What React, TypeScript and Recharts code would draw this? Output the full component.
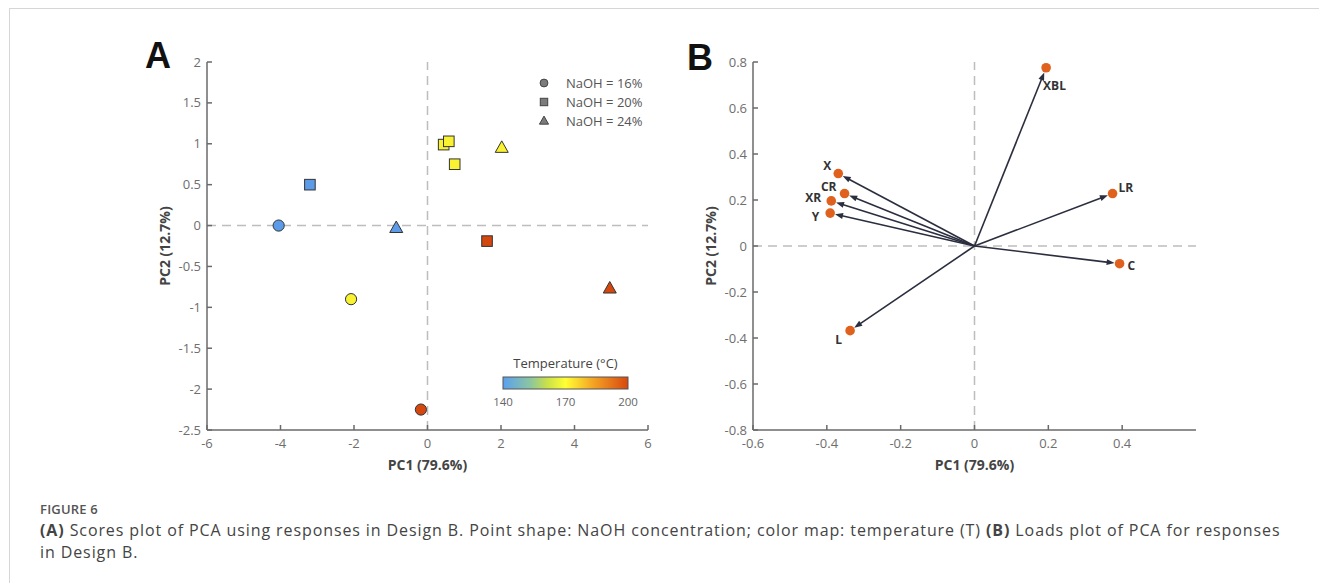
import React from "react";
import { ScatterChart, Scatter, XAxis, YAxis, ReferenceLine } from "recharts";

// Panel A - PCA scores, Design B (one entry per run)
const SCORE_PC1 = [-4.05, -2.08, -0.18, -3.2, 0.44, 0.58, 0.74, 1.62, -0.85, 2.02, 4.96];
const SCORE_PC2 = [0.0, -0.9, -2.25, 0.5, 0.99, 1.03, 0.75, -0.19, -0.03, 0.95, -0.77];
const SCORE_NAOH = [16, 16, 16, 20, 20, 20, 20, 20, 24, 24, 24];
const SCORE_TEMP = [140, 170, 200, 140, 170, 170, 170, 200, 140, 170, 200];
const NAOH_LEVELS = [16, 20, 24];
const TEMP_TICKS = [140, 170, 200];

// Panel B - PCA loadings
const LOAD_NAMES = ["XBL", "X", "CR", "XR", "Y", "LR", "C", "L"];
const LOAD_PC1 = [0.194, -0.369, -0.352, -0.388, -0.391, 0.374, 0.393, -0.337];
const LOAD_PC2 = [0.775, 0.315, 0.228, 0.196, 0.143, 0.228, -0.077, -0.368];

const A_X_TICKS = [-6, -4, -2, 0, 2, 4, 6];
const A_Y_TICKS = [-2.5, -2, -1.5, -1, -0.5, 0, 0.5, 1, 1.5, 2];
const B_X_TICKS = [-0.6, -0.4, -0.2, 0, 0.2, 0.4];
const B_Y_TICKS = [-0.8, -0.6, -0.4, -0.2, 0, 0.2, 0.4, 0.6, 0.8];

const FONT = "'Open Sans', sans-serif";
const AXIS = "#6a6a6a";
const TICK_TEXT = "#6e6e6e";
const TITLE = "#444";

const TEMP_COLOR: Record<number, string> = {
  140: "#5b9be8",
  170: "#f8f232",
  200: "#d4470f",
};
const NAOH_SHAPE: Record<number, string> = { 16: "circle", 20: "square", 24: "triangle" };

// label placement for the loading points (px from the dot)
const LABEL_POS: Record<string, { dx: number; dy: number; anchor: string }> = {
  XBL: { dx: -3, dy: 22, anchor: "start" },
  X: { dx: -7, dy: -4, anchor: "end" },
  CR: { dx: -8, dy: -3, anchor: "end" },
  XR: { dx: -10, dy: 1, anchor: "end" },
  Y: { dx: -11, dy: 8, anchor: "end" },
  LR: { dx: 6, dy: -2, anchor: "start" },
  C: { dx: 8, dy: 6, anchor: "start" },
  L: { dx: -8, dy: 13, anchor: "end" },
};

const scores = SCORE_PC1.map((pc1, i) => ({
  pc1,
  pc2: SCORE_PC2[i],
  naoh: SCORE_NAOH[i],
  temp: SCORE_TEMP[i],
}));
const loadings = LOAD_NAMES.map((name, i) => ({ name, pc1: LOAD_PC1[i], pc2: LOAD_PC2[i] }));

function Marker({ cx, cy, kind, fill, stroke = "#333", k = 1 }: any) {
  if (kind === "circle") return <circle cx={cx} cy={cy} r={5.6 * k} fill={fill} stroke={stroke} strokeWidth={1} />;
  if (kind === "square")
    return (
      <rect x={cx - 5.3 * k} y={cy - 5.3 * k} width={10.6 * k} height={10.6 * k} fill={fill} stroke={stroke} strokeWidth={1} />
    );
  return (
    <polygon
      points={`${cx},${cy - 7 * k} ${cx - 6.5 * k},${cy + 4.5 * k} ${cx + 6.5 * k},${cy + 4.5 * k}`}
      fill={fill}
      stroke={stroke}
      strokeWidth={1}
    />
  );
}

// inward tick marks, labels outside
const fmt = (v: number) => String(v);
const BottomTick = ({ x, y, payload }: any) => (
  <g>
    <line x1={x} x2={x} y1={y} y2={y - 5} stroke={AXIS} strokeWidth={1.5} />
    <text x={x} y={y + 18} textAnchor="middle" fill={TICK_TEXT} fontSize={13} fontFamily={FONT}>
      {fmt(payload.value)}
    </text>
  </g>
);
const LeftTick = ({ x, y, payload }: any) => (
  <g>
    <line x1={x} x2={x + 5} y1={y} y2={y} stroke={AXIS} strokeWidth={1.5} />
    <text x={x - 6} y={y + 4.5} textAnchor="end" fill={TICK_TEXT} fontSize={13} fontFamily={FONT}>
      {fmt(payload.value)}
    </text>
  </g>
);
const TopTick = ({ x, y }: any) => <line x1={x} x2={x} y1={y} y2={y + 5} stroke={AXIS} strokeWidth={1.5} />;
const RightTick = ({ x, y }: any) => <line x1={x} x2={x - 5} y1={y} y2={y} stroke={AXIS} strokeWidth={1.5} />;

const xTitle = (value: string) => ({
  value,
  position: "insideBottom" as const,
  offset: 0,
  fill: TITLE,
  fontSize: 14,
  fontWeight: 700,
  fontFamily: FONT,
});
const yTitle = (value: string) => ({
  value,
  angle: -90,
  position: "insideLeft" as const,
  offset: 8,
  fill: TITLE,
  fontSize: 14,
  fontWeight: 700,
  fontFamily: FONT,
  style: { textAnchor: "middle" },
});

function Arrow(props: any) {
  const { x1, y1, x2, y2 } = props;
  const dx = x2 - x1;
  const dy = y2 - y1;
  const len = Math.hypot(dx, dy) || 1;
  const ux = dx / len;
  const uy = dy / len;
  const tipX = x2 - ux * 5;
  const tipY = y2 - uy * 5;
  const bx = tipX - ux * 8;
  const by = tipY - uy * 8;
  return (
    <g>
      <line x1={x1} y1={y1} x2={bx + ux * 2} y2={by + uy * 2} stroke="#2b2e3f" strokeWidth={1.6} />
      <polygon
        points={`${tipX},${tipY} ${bx - uy * 3},${by + ux * 3} ${bx + uy * 3},${by - ux * 3}`}
        fill="#2b2e3f"
      />
    </g>
  );
}

function LoadingDot({ cx, cy, payload }: any) {
  const p = LABEL_POS[payload.name];
  return (
    <g>
      <circle cx={cx} cy={cy} r={4.8} fill="#e0601e" />
      <text
        x={cx + p.dx}
        y={cy + p.dy}
        textAnchor={p.anchor}
        fill="#333"
        fontSize={12}
        fontWeight={700}
        fontFamily={FONT}
      >
        {payload.name}
      </text>
    </g>
  );
}

function frameAxes(xDomain: number[], yDomain: number[], xTicks: number[], yTicks: number[]) {
  const line = { stroke: AXIS, strokeWidth: 1.5 };
  return [
    <XAxis
      key="xb"
      type="number"
      dataKey="pc1"
      domain={xDomain}
      ticks={xTicks}
      interval={0}
      height={40}
      tickSize={0}
      tickMargin={0}
      axisLine={line}
      tickLine={false}
      tick={BottomTick}
      allowDataOverflow
      label={xTitle("PC1 (79.6%)")}
    />,
    <XAxis
      key="xt"
      xAxisId="top"
      orientation="top"
      type="number"
      domain={xDomain}
      ticks={xTicks}
      interval={0}
      height={0}
      tickSize={0}
      tickMargin={0}
      axisLine={line}
      tickLine={false}
      tick={TopTick}
      allowDataOverflow
    />,
    <YAxis
      key="yl"
      type="number"
      dataKey="pc2"
      domain={yDomain}
      ticks={yTicks}
      interval={0}
      width={50}
      tickSize={0}
      tickMargin={0}
      axisLine={line}
      tickLine={false}
      tick={LeftTick}
      allowDataOverflow
      label={yTitle("PC2 (12.7%)")}
    />,
    <YAxis
      key="yr"
      yAxisId="right"
      orientation="right"
      type="number"
      domain={yDomain}
      ticks={yTicks}
      interval={0}
      width={0}
      tickSize={0}
      tickMargin={0}
      axisLine={line}
      tickLine={false}
      tick={RightTick}
      allowDataOverflow
    />,
  ];
}

const zeroLine = { stroke: "#bdbdbd", strokeWidth: 1.5, strokeDasharray: "9 6" };

function ScoresChart() {
  return (
    <ScatterChart width={530} height={440} margin={{ top: 22, right: 12, bottom: 10, left: 27 }}>
      {frameAxes([-6, 6], [-2.5, 2], A_X_TICKS, A_Y_TICKS)}
      <ReferenceLine x={0} {...zeroLine} />
      <ReferenceLine y={0} {...zeroLine} />
      {NAOH_LEVELS.map((lvl) => (
        <Scatter
          key={lvl}
          name={`NaOH = ${lvl}%`}
          data={scores.filter((s) => s.naoh === lvl)}
          isAnimationActive={false}
          shape={(p: any) => <Marker cx={p.cx} cy={p.cy} kind={NAOH_SHAPE[lvl]} fill={TEMP_COLOR[p.payload.temp]} />}
        />
      ))}
    </ScatterChart>
  );
}

function LoadingsChart() {
  return (
    <ScatterChart width={530} height={440} margin={{ top: 22, right: 24, bottom: 10, left: 13 }}>
      {frameAxes([-0.6, 0.6], [-0.8, 0.8], B_X_TICKS, B_Y_TICKS)}
      <ReferenceLine x={0} {...zeroLine} />
      <ReferenceLine y={0} {...zeroLine} />
      {loadings.map((l) => (
        <ReferenceLine
          key={l.name}
          segment={[
            { x: 0, y: 0 },
            { x: l.pc1, y: l.pc2 },
          ]}
          shape={Arrow}
        />
      ))}
      <Scatter data={loadings} isAnimationActive={false} shape={LoadingDot} />
    </ScatterChart>
  );
}

export default function App() {
  return (
    <div
      style={{
        position: "absolute",
        left: 0,
        top: 0,
        width: 1319,
        height: 583,
        background: "#fff",
        fontFamily: FONT,
        overflow: "hidden",
      }}
    >
      <div style={{ position: "absolute", left: 9, top: 8, width: 1310, borderTop: "1.5px solid #d6d6d6" }} />
      <div style={{ position: "absolute", left: 9, top: 8, height: 580, borderLeft: "1.5px solid #d6d6d6" }} />

      <div style={{ position: "absolute", left: 130, top: 40 }}>
        <ScoresChart />
      </div>
      <div style={{ position: "absolute", left: 690, top: 40 }}>
        <LoadingsChart />
      </div>

      <svg width={1319} height={583} style={{ position: "absolute", left: 0, top: 0, pointerEvents: "none" }}>
        <defs>
          <linearGradient id="tempGrad" x1="0" x2="1" y1="0" y2="0">
            <stop offset="0%" stopColor="#5aa0f0" />
            <stop offset="22%" stopColor="#8cc6a0" />
            <stop offset="35%" stopColor="#c8e04a" />
            <stop offset="50%" stopColor="#ffff33" />
            <stop offset="72%" stopColor="#f4a424" />
            <stop offset="100%" stopColor="#d84810" />
          </linearGradient>
        </defs>
        <text x={145} y={68} fontSize={36} fontWeight={700} fontFamily="'Liberation Sans', Arial, sans-serif" fill="#111">
          A
        </text>
        <text x={687} y={70} fontSize={36} fontWeight={700} fontFamily="'Liberation Sans', Arial, sans-serif" fill="#111">
          B
        </text>

        {NAOH_LEVELS.map((lvl, i) => (
          <g key={lvl}>
            <Marker
              cx={544}
              cy={83 + 19 * i}
              kind={NAOH_SHAPE[lvl]}
              fill="#7c7c7c"
              stroke="#444"
              k={0.7}
            />
            <text x={566} y={83 + 19 * i + 4.5} fontSize={13} fill="#555" fontFamily={FONT}>
              {`NaOH = ${lvl}%`}
            </text>
          </g>
        ))}

        <text x={565.5} y={368} textAnchor="middle" fontSize={13} fill="#444" fontFamily={FONT}>
          Temperature (°C)
        </text>
        <rect x={503} y={377} width={125} height={12} fill="url(#tempGrad)" stroke="#555" strokeWidth={1} />
        {TEMP_TICKS.map((t) => (
          <text
            key={t}
            x={503 + (125 * (t - TEMP_TICKS[0])) / (TEMP_TICKS[2] - TEMP_TICKS[0])}
            y={406}
            textAnchor="middle"
            fontSize={11.5}
            fill="#666"
            fontFamily={FONT}
          >
            {t}
          </text>
        ))}
      </svg>

      <div style={{ position: "absolute", left: 40, top: 500, fontSize: 13, fontWeight: 600, color: "#555", letterSpacing: 0.2 }}>
        FIGURE 6
      </div>
      <div
        style={{
          position: "absolute",
          left: 40,
          top: 519,
          fontSize: 16,
          letterSpacing: 0.9,
          lineHeight: "22px",
          color: "#444",
          whiteSpace: "nowrap",
        }}
      >
        <b>(A)</b> Scores plot of PCA using responses in Design B. Point shape: NaOH concentration; color map: temperature (T){" "}
        <b>(B)</b> Loads plot of PCA for responses
        <br />
        in Design B.
      </div>
    </div>
  );
}
